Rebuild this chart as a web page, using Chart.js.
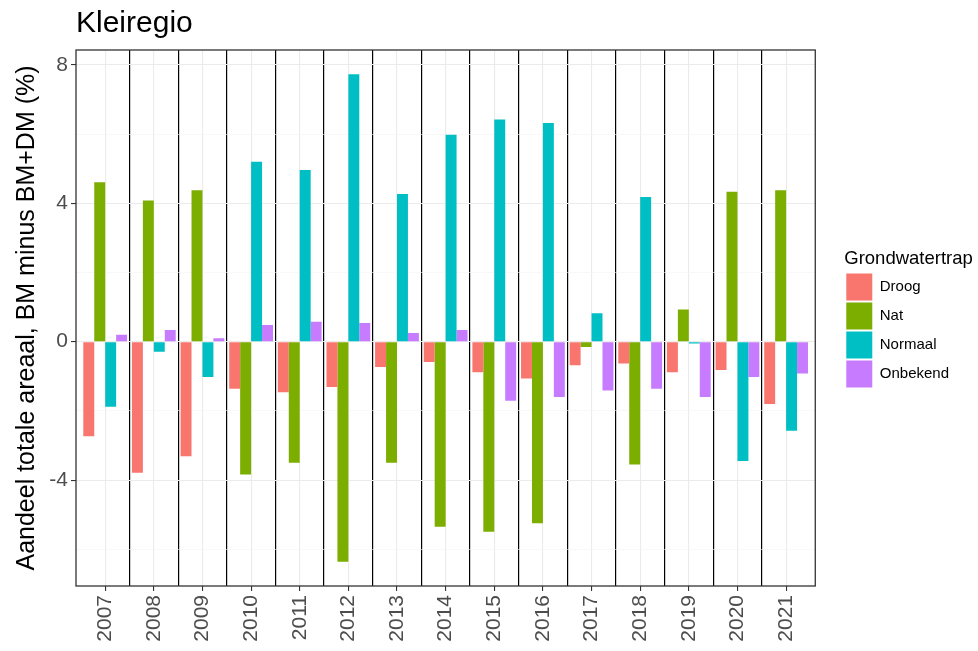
<!DOCTYPE html>
<html>
<head>
<meta charset="utf-8">
<script src="https://cdn.jsdelivr.net/npm/chart.js@4.4.1/dist/chart.umd.min.js"></script>
<style>
  html, body { margin: 0; padding: 0; background: #ffffff; }
  #wrap { width: 978px; height: 651px; }
</style>
</head>
<body>
<div id="wrap"><canvas id="c" width="978" height="651"></canvas></div>
<script>
const years = ['2007','2008','2009','2010','2011','2012','2013','2014','2015','2016','2017','2018','2019','2020','2021'];
const droog    = [-2.73,-3.79,-3.31,-1.36,-1.46,-1.31,-0.73,-0.59,-0.88,-1.06,-0.68,-0.63,-0.88,-0.82,-1.80];
const nat      = [ 4.61, 4.08, 4.38,-3.84,-3.50,-6.36,-3.50,-5.35,-5.49,-5.25,-0.15,-3.55, 0.93, 4.33, 4.38];
const normaal  = [-1.88,-0.29,-1.02, 5.20, 4.96, 7.73, 4.27, 5.98, 6.42, 6.32, 0.82, 4.18,-0.05,-3.45,-2.57];
const onbekend = [ 0.20, 0.34, 0.10, 0.48, 0.58, 0.54, 0.25, 0.34,-1.71,-1.60,-1.41,-1.36,-1.60,-1.02,-0.92];
const seriesNames = ['Droog','Nat','Normaal','Onbekend'];
const yTicks = [-6,-4,-2,0,2,4,6,8];

const colors = ['#F8766D','#7CAE00','#00BFC4','#C77CFF'];
const allSeries = [droog, nat, normaal, onbekend];
const toPoints = arr => arr.map((v, i) => ({ x: i + 1, y: v }));

const panelPlugin = {
  id: 'panel',
  afterDatasetsDraw(chart) {
    const a = chart.chartArea, ctx = chart.ctx;
    ctx.save();
    ctx.strokeStyle = '#333333';
    ctx.lineWidth = 1.3;
    ctx.strokeRect(a.left, a.top, a.right - a.left, a.bottom - a.top);
    ctx.restore();
  }
};

const legendWidenPlugin = {
  id: 'legendWiden',
  beforeLayout(chart) {
    const lg = chart.legend;
    if (lg && !lg._widened) {
      const orig = lg.fit.bind(lg);
      lg.fit = function () { orig(); this.width += 19; };
      lg._widened = true;
    }
  }
};

new Chart(document.getElementById('c'), {
  type: 'bar',
  data: {
    datasets: allSeries.map((s, k) => ({
      label: seriesNames[k],
      data: toPoints(s),
      backgroundColor: colors[k],
      borderWidth: 0,
      categoryPercentage: 0.9,
      barPercentage: 1.0
    }))
  },
  options: {
    responsive: false,
    animation: false,
    devicePixelRatio: 1,
    layout: { padding: { top: 0, left: 0, right: 0, bottom: 0 } },
    plugins: {
      tooltip: { enabled: false },
      title: {
        display: true,
        text: 'Kleiregio',
        align: 'start',
        fullSize: false,
        color: '#000000',
        font: { family: 'Liberation Sans', size: 30, weight: 'normal' },
        padding: { top: 6, bottom: 8 }
      },
      legend: {
        display: true,
        position: 'right',
        align: 'center',
        title: {
          display: true,
          text: 'Grondwatertrap',
          position: 'start',
          color: '#000000',
          font: { family: 'Liberation Sans', size: 18.5 },
          padding: { top: -12, bottom: 0 }
        },
        labels: {
          boxWidth: 26,
          boxHeight: 27,
          padding: 2,
          color: '#000000',
          font: { family: 'Liberation Sans', size: 15 }
        }
      }
    },
    scales: {
      x: {
        type: 'linear',
        position: 'bottom',
        offset: false,
        min: 0.4,
        max: 15.6,
        afterBuildTicks: s => { s.ticks = years.map((_, i) => ({ value: i + 1 })); },
        afterFit: s => { s.height = 65; },
        ticks: {
          autoSkip: false,
          minRotation: 90,
          maxRotation: 90,
          padding: 4,
          color: '#4d4d4d',
          font: { family: 'Liberation Sans', size: 21 },
          callback: v => years[Math.round(v) - 1]
        },
        grid: {
          offset: false,
          color: '#ebebeb',
          lineWidth: 1.1,
          drawTicks: true,
          tickLength: 5,
          tickColor: '#333333'
        },
        border: { display: false }
      },
      xsep: {
        type: 'linear',
        position: 'bottom',
        offset: false,
        min: 0.4,
        max: 15.6,
        afterBuildTicks: s => { s.ticks = years.slice(1).map((_, i) => ({ value: i + 1.5 })); },
        afterFit: s => { s.height = 0; },
        ticks: { display: false },
        grid: { offset: false, color: '#000000', lineWidth: 1.2, drawTicks: false },
        border: { display: false }
      },
      y: {
        type: 'linear',
        position: 'left',
        min: -7.06,
        max: 8.43,
        afterBuildTicks: s => { s.ticks = yTicks.map(v => ({ value: v })); },
        afterFit: s => { s.width = 76; },
        ticks: {
          padding: 3,
          color: '#4d4d4d',
          font: { family: 'Liberation Sans', size: 21 },
          callback: v => (v % 4 === 0 ? String(v) : '')
        },
        grid: {
          color: c => (c.tick && c.tick.value % 4 === 0 ? '#ebebeb' : '#f4f4f4'),
          lineWidth: c => (c.tick && c.tick.value % 4 === 0 ? 1.1 : 0.6),
          drawTicks: true,
          tickLength: 5,
          tickColor: c => (c.tick && c.tick.value % 4 === 0 ? '#333333' : 'rgba(0,0,0,0)')
        },
        border: { display: false },
        title: {
          display: true,
          text: 'Aandeel totale areaal, BM minus BM+DM (%)',
          color: '#000000',
          font: { family: 'Liberation Sans', size: 25 },
          padding: { top: 12, bottom: 2 }
        }
      },
      gap: {
        type: 'linear',
        position: 'right',
        display: true,
        afterFit: s => { s.width = 29; },
        ticks: { display: false },
        grid: { display: false, drawTicks: false },
        border: { display: false }
      }
    }
  },
  plugins: [panelPlugin, legendWidenPlugin]
});
</script>
</body>
</html>
